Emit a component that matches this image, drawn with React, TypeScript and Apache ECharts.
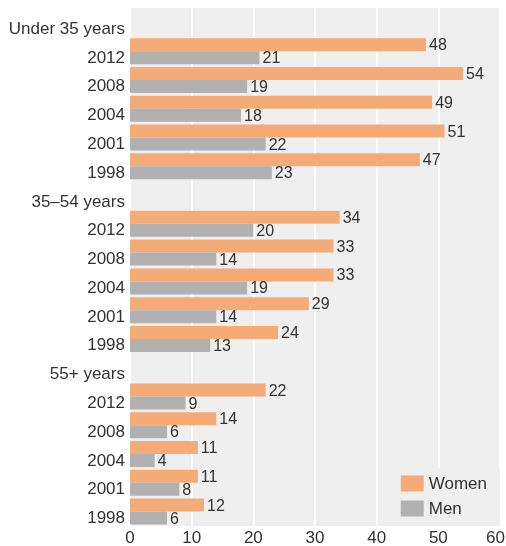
import React, { useEffect, useRef } from "react";
import * as echarts from "echarts";

const groups = ["Under 35 years", "35–54 years", "55+ years"];
const years = ["2012", "2008", "2004", "2001", "1998"];
const womenValues = [
  [48, 54, 49, 51, 47],
  [34, 33, 33, 29, 24],
  [22, 14, 11, 11, 12],
];
const menValues = [
  [21, 19, 18, 22, 23],
  [20, 14, 19, 14, 13],
  [9, 6, 4, 8, 6],
];
const xTicks = [0, 10, 20, 30, 40, 50, 60];

const FONT = "Liberation Sans, Arial, sans-serif";

export default function App() {
  const ref = useRef<HTMLDivElement>(null);
  useEffect(() => {
    if (!ref.current) return;
    const chart = echarts.init(ref.current, null, { renderer: "svg" });
    const categories: string[] = [];
    const women: (number | string)[] = [];
    const men: (number | string)[] = [];
    groups.forEach((g, gi) => {
      categories.push(g);
      women.push("-");
      men.push("-");
      years.forEach((y, yi) => {
        categories.push(y);
        women.push(womenValues[gi][yi]);
        men.push(menValues[gi][yi]);
      });
    });
    const xMax = xTicks[xTicks.length - 1];
    const label = {
      show: true,
      position: "right",
      distance: 3,
      fontSize: 16,
      color: "#333",
      fontFamily: FONT,
    };
    chart.setOption({
      animation: false,
      textStyle: { fontFamily: FONT },
      grid: {
        left: 130,
        right: 6,
        top: 8,
        bottom: 20,
        show: true,
        backgroundColor: "#efefef",
        borderWidth: 0,
        outerBoundsMode: "none",
        containLabel: false,
      },
      legend: {
        orient: "vertical",
        right: 6,
        bottom: 20,
        backgroundColor: "#efefef",
        padding: [7, 13, 9, 8],
        itemWidth: 23,
        itemHeight: 16,
        itemGap: 8,
        icon: "rect",
        textStyle: { fontSize: 17, color: "#333", fontFamily: FONT },
        data: ["Women", "Men"],
      },
      xAxis: {
        type: "value",
        min: xTicks[0],
        max: xMax,
        interval: 10,
        axisLine: { show: false },
        axisTick: { show: false },
        splitLine: { show: true, lineStyle: { color: "#ffffff", width: 2 } },
        axisLabel: {
          fontSize: 17,
          lineHeight: 17,
          color: "#333",
          margin: 3,
          fontFamily: FONT,
          formatter: (v: number) => (v === xMax ? `{m|${v}}` : `${v}`),
          rich: {
            m: {
              fontSize: 17,
              lineHeight: 17,
              color: "#333",
              fontFamily: FONT,
              padding: [0, 9, 0, 0],
            },
          },
        },
      },
      yAxis: {
        type: "category",
        inverse: true,
        data: categories,
        axisLine: { show: false },
        axisTick: { show: false },
        axisLabel: {
          fontSize: 17,
          color: "#333",
          margin: 5,
          verticalAlign: "top",
          lineHeight: 12,
          fontFamily: FONT,
        },
      },
      series: [
        {
          name: "Women",
          type: "bar",
          data: women,
          barWidth: 13,
          barGap: "0%",
          itemStyle: { color: "#f5ab78" },
          label,
        },
        {
          name: "Men",
          type: "bar",
          data: men,
          barWidth: 13,
          barGap: "0%",
          itemStyle: { color: "#b1b1b1" },
          label,
        },
      ],
    });
    return () => chart.dispose();
  }, []);
  return (
    <div
      ref={ref}
      style={{ position: "fixed", left: 0, top: 0, width: 506, height: 546 }}
    />
  );
}
